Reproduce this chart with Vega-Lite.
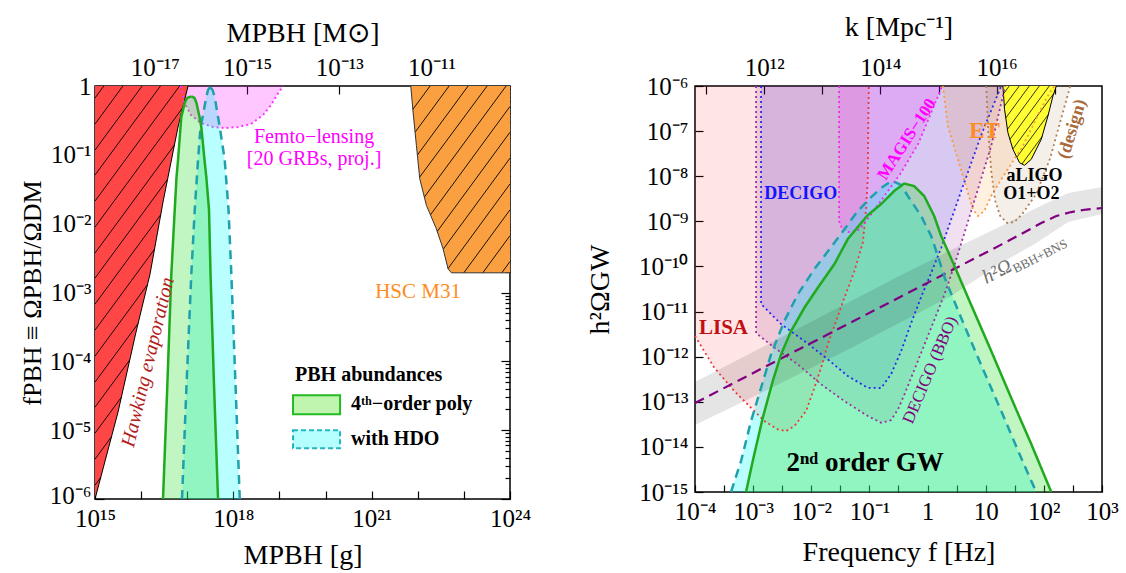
{
"$schema": "https://vega.github.io/schema/vega-lite/v6.json",
"background": "white",
"padding": {"left": 18, "top": 12, "right": 5, "bottom": 5},
"spacing": 53,
"config": {
 "view": {"stroke": "black", "strokeWidth": 1.5},
 "axis": {"grid": false, "domain": false, "labelFont": "Liberation Serif", "labelFontSize": 25, "labelColor": "black", "titleFont": "Liberation Serif", "titleFontSize": 28, "titleFontWeight": "normal", "titleColor": "black", "tickColor": "black", "tickWidth": 1.2, "labelOverlap": false, "labelFlush": false, "labelBound": false},
 "text": {"font": "Liberation Serif"}
},
"datasets": {
 "hawk": [{"M":1e15,"f":1e-6},{"M":3.155e15,"f":1.828e-5},{"M":7.751e15,"f":2.657e-4},{"M":1.56e16,"f":1.851e-3},{"M":2.985e16,"f":0.02061},{"M":6.316e16,"f":0.2536},{"M":1.041e17,"f":1}],
 "hawkHatch": [
  {"M1":1e15,"f1":0.6693,"M2":1.5525e15,"f2":1},
  {"M1":1e15,"f1":0.2803,"M2":4.027e15,"f2":1},
  {"M1":1e15,"f1":0.1174,"M2":1.052e16,"f2":1},
  {"M1":1e15,"f1":0.05086,"M2":2.624e16,"f2":1},
  {"M1":1e15,"f1":0.02131,"M2":6.839e16,"f2":1},
  {"M1":1e15,"f1":0.008926,"M2":7.98e16,"f2":0.4836},
  {"M1":1e15,"f1":0.003738,"M2":5.272e16,"f2":0.1388},
  {"M1":1e15,"f1":0.001619,"M2":3.741e16,"f2":0.04389},
  {"M1":1e15,"f1":6.783e-4,"M2":2.661e16,"f2":0.01351},
  {"M1":1e15,"f1":2.841e-4,"M2":1.954e16,"f2":0.00426},
  {"M1":1e15,"f1":1.19e-4,"M2":1.371e16,"f2":0.001294},
  {"M1":1e15,"f1":4.986e-5,"M2":8.61e15,"f2":3.543e-4},
  {"M1":1e15,"f1":2.16e-5,"M2":5.689e15,"f2":1.051e-4},
  {"M1":1e15,"f1":9.045e-6,"M2":3.715e15,"f2":2.997e-5},
  {"M1":1e15,"f1":3.788e-6,"M2":2.28e15,"f2":8.045e-6},
  {"M1":1e15,"f1":1.587e-6,"M2":1.337e15,"f2":2.067e-6}],
 "hsc": [{"M":7.047e21,"f":1},{"M":7.907e21,"f":0.4188},{"M":9.333e21,"f":0.1374},{"M":1.104e22,"f":0.04498},{"M":1.538e22,"f":0.01845},{"M":2.529e22,"f":0.008433},{"M":3.54e22,"f":0.004315},{"M":4.539e22,"f":0.002208},{"M":5.358e22,"f":0.001932},{"M":1e24,"f":0.001932}],
 "hscHatch": [
  {"M1":1.849e22,"f1":1,"M2":7.798e21,"f2":0.4571},
  {"M1":4.775e22,"f1":1,"M2":8.73e21,"f2":0.213},
  {"M1":1.233e23,"f1":1,"M2":9.795e21,"f2":0.0993},
  {"M1":3.184e23,"f1":1,"M2":1.089e22,"f2":0.0471},
  {"M1":8.222e23,"f1":1,"M2":1.39e22,"f2":0.02438},
  {"M1":1e24,"f1":0.5051,"M2":1.884e22,"f2":0.01343},
  {"M1":1e24,"f1":0.213,"M2":2.649e22,"f2":0.007727},
  {"M1":1e24,"f1":0.08954,"M2":3.573e22,"f2":0.004276},
  {"M1":1e24,"f1":0.03776,"M2":4.519e22,"f2":0.002223},
  {"M1":1e24,"f1":0.01589,"M2":9.954e22,"f2":0.001932},
  {"M1":1e24,"f1":0.006699,"M2":2.57e23,"f2":0.001932},
  {"M1":1e24,"f1":0.002825,"M2":6.637e23,"f2":0.001932}],
 "femto": [{"M":7.345e16,"f":1},{"M":8.531e16,"f":0.5853},{"M":1.208e17,"f":0.3788},{"M":1.991e17,"f":0.2899},{"M":3.631e17,"f":0.2536},{"M":6.607e17,"f":0.2452},{"M":1.265e18,"f":0.2536},{"M":2.421e18,"f":0.2803},{"M":4.406e18,"f":0.3788},{"M":6.577e18,"f":0.5294},{"M":8.872e18,"f":0.7398},{"M":1.197e19,"f":1}],
 "poly": [{"f":1e-6,"ML":2.986e16,"MR":4.657e17},{"f":4.464e-5,"ML":3.70e16,"MR":3.814e17},{"f":1.851e-3,"ML":4.52e16,"MR":3.202e17},{"f":0.01576,"ML":5.356e16,"MR":2.971e17},{"f":0.04757,"ML":5.86e16,"MR":2.596e17},{"f":0.08403,"ML":6.316e16,"MR":2.373e17},{"f":0.2536,"ML":7.156e16,"MR":2.022e17},{"f":0.3543,"ML":7.447e16,"MR":1.848e17},{"f":0.566,"ML":8.829e16,"MR":1.591e17},{"f":0.6693,"ML":9.902e16,"MR":1.44e17},{"f":0.7084,"ML":1.227e17,"MR":1.227e17}],
 "hdo": [{"f":1e-6,"ML":7.71e16,"MR":1.377e18},{"f":4.508e-5,"ML":9.656e16,"MR":1.116e18},{"f":1.851e-3,"ML":1.227e17,"MR":9.05e17},{"f":0.01576,"ML":1.455e17,"MR":7.87e17},{"f":0.08403,"ML":1.715e17,"MR":6.508e17},{"f":0.2536,"ML":1.943e17,"MR":5.07e17},{"f":0.3205,"ML":2.094e17,"MR":4.775e17},{"f":0.6921,"ML":2.596e17,"MR":3.949e17},{"f":0.8748,"ML":2.826e17,"MR":3.538e17},{"f":0.9671,"ML":3.123e17,"MR":3.123e17}],
 "lisa": [{"F":1e-4,"O":2.864e-12},{"F":2.149e-4,"O":5.675e-13},{"F":4.747e-4,"O":1.727e-13},{"F":9.203e-4,"O":7.362e-14},{"F":1.559e-3,"O":3.733e-14},{"F":2.651e-3,"O":2.443e-14},{"F":3.684e-3,"O":2.239e-14},{"F":5.118e-3,"O":2.891e-14},{"F":8.138e-3,"O":6.223e-14},{"F":0.01131,"O":2.042e-13},{"F":0.01475,"O":5.675e-13},{"F":0.01923,"O":1.875e-12},{"F":0.02673,"O":6.152e-12},{"F":0.03713,"O":2.023e-11},{"F":0.05517,"O":7.907e-11},{"F":0.07697,"O":3.354e-10},{"F":0.08775,"O":1.875e-9},{"F":0.09387,"O":1.01e-8},{"F":0.09612,"O":3.09e-7},{"F":0.09765,"O":1e-6}],
 "decigo": [{"F":1.367e-3,"O":1e-6},{"F":1.368e-3,"O":1.467e-11},{"F":3.021e-3,"O":5.282e-12},{"F":7.605e-3,"O":2.218e-12},{"F":0.01923,"O":8.71e-13},{"F":0.04248,"O":3.715e-13},{"F":0.09387,"O":2.042e-13},{"F":0.159,"O":2.014e-13},{"F":0.2363,"O":4.111e-13},{"F":0.3512,"O":1.33e-12},{"F":0.522,"O":5.559e-12},{"F":0.7759,"O":2.097e-11},{"F":1.153,"O":7.141e-11},{"F":1.714,"O":2.559e-10},{"F":3.787,"O":4.699e-9},{"F":8.367,"O":8.195e-8},{"F":18.48,"O":1e-6}],
 "bbo": [{"F":1.121e-3,"O":1e-6},{"F":1.122e-3,"O":3.337e-12},{"F":2.317e-3,"O":1.575e-12},{"F":5.856e-3,"O":6.75e-13},{"F":0.01475,"O":2.431e-13},{"F":0.03713,"O":1.036e-13},{"F":0.09387,"O":4.819e-14},{"F":0.159,"O":3.423e-14},{"F":0.2363,"O":3.928e-14},{"F":0.3119,"O":6.889e-14},{"F":0.4003,"O":1.459e-13},{"F":0.6809,"O":7.987e-13},{"F":1.153,"O":4.373e-12},{"F":1.954,"O":2.406e-11},{"F":2.87,"O":1.021e-10},{"F":5.629,"O":1.692e-9},{"F":12.43,"O":4.673e-8},{"F":21.66,"O":1e-6}],
 "magis": [{"F":0.03008,"O":1e-6},{"F":0.03009,"O":1.016e-9},{"F":0.03389,"O":6.75e-10},{"F":0.04299,"O":5.79e-10},{"F":0.06142,"O":6.093e-10},{"F":0.0779,"O":8.279e-10},{"F":0.1113,"O":1.528e-9},{"F":0.3376,"O":1.119e-8},{"F":0.689,"O":5.176e-8},{"F":1.784,"O":1e-6}],
 "et": [{"F":1.834,"O":1e-6},{"F":2.236,"O":1.297e-7},{"F":3.323,"O":2.37e-8},{"F":4.939,"O":4.306e-9},{"F":6.022,"O":1.845e-9},{"F":7.34,"O":1.311e-9},{"F":9.423,"O":1.692e-9},{"F":12.43,"O":3.639e-9},{"F":17.77,"O":7.826e-9},{"F":27.47,"O":1.865e-8},{"F":42.0,"O":4.284e-8},{"F":60.7,"O":1.113e-7},{"F":85.35,"O":2.791e-7},{"F":114.4,"O":5.702e-7},{"F":151.0,"O":1e-6}],
 "design": [{"F":10.2,"O":1e-6},{"F":11.04,"O":1.005e-7},{"F":12.43,"O":1.304e-8},{"F":14.57,"O":2.819e-9},{"F":17.77,"O":1.311e-9},{"F":23.45,"O":9.169e-10},{"F":30.94,"O":9.65e-10},{"F":42.49,"O":1.452e-9},{"F":74.01,"O":4.03e-9},{"F":128.9,"O":2.532e-8},{"F":199.3,"O":1.952e-7},{"F":284.7,"O":1e-6}],
 "ligo": [{"F":19.77,"O":1e-6},{"F":21.07,"O":3.044e-7},{"F":24.11,"O":9.215e-8},{"F":29.39,"O":3.949e-8},{"F":38.17,"O":1.992e-8},{"F":46.54,"O":1.745e-8},{"F":60.7,"O":2.37e-8},{"F":90.2,"O":6.58e-8},{"F":117.6,"O":2.162e-7},{"F":143.4,"O":6.002e-7},{"F":163.5,"O":1e-6}],
 "ligoHatch": [{"F1":25.38,"O1":1e-6,"F2":20.17,"O2":6.681e-7},{"F1":37.72,"O1":1e-6,"F2":20.9,"O2":3.565e-7},{"F1":56.07,"O1":1e-6,"F2":22.18,"O2":1.962e-7},{"F1":83.33,"O1":1e-6,"F2":23.63,"O2":1.096e-7},{"F1":123.8,"O1":1e-6,"F2":26.09,"O2":6.546e-8},{"F1":148.6,"O1":6.854e-7,"F2":29.39,"O2":4.03e-8},{"F1":120.0,"O1":2.357e-7,"F2":34.3,"O2":2.638e-8},{"F1":93.47,"O1":7.59e-8,"F2":42.0,"O2":1.865e-8}],
 "gwGreen": [{"F":7.548e-4,"O":1e-15},{"F":9.843e-4,"O":4.843e-15},{"F":1.463e-3,"O":4.418e-14},{"F":2.174e-3,"O":2.877e-13},{"F":3.021e-3,"O":1.125e-12},{"F":4.489e-3,"O":3.695e-12},{"F":7.605e-3,"O":1.214e-11},{"F":0.01294,"O":3.371e-11},{"F":0.02498,"O":1.13e-10},{"F":0.04248,"O":4.05e-10},{"F":0.09387,"O":1.38e-9},{"F":0.159,"O":2.419e-9},{"F":0.2661,"O":4.697e-9},{"F":0.3956,"O":6.889e-9},{"F":0.588,"O":6.062e-9},{"F":0.8739,"O":3.639e-9},{"F":1.299,"O":1.311e-9},{"F":1.714,"O":4.722e-10},{"F":2.758,"O":1.19e-10},{"F":5.629,"O":1.393e-11},{"F":12.43,"O":1.33e-12},{"F":27.47,"O":1.208e-13},{"F":60.7,"O":1.154e-14},{"F":134.1,"O":1e-15}],
 "gwCyan": [{"F":4.165e-4,"O":1e-15},{"F":6.19e-4,"O":4.843e-15},{"F":9.203e-4,"O":3.734e-14},{"F":1.368e-3,"O":2.042e-13},{"F":2.033e-3,"O":1.125e-12},{"F":3.443e-3,"O":6.152e-12},{"F":5.856e-3,"O":2.406e-11},{"F":0.01131,"O":8.757e-11},{"F":0.02498,"O":3.354e-10},{"F":0.06314,"O":1.692e-9},{"F":0.107,"O":3.458e-9},{"F":0.159,"O":5.474e-9},{"F":0.2183,"O":7.249e-9},{"F":0.2769,"O":7.436e-9},{"F":0.3512,"O":6.381e-9},{"F":0.4581,"O":3.639e-9},{"F":0.7759,"O":1.311e-9},{"F":1.153,"O":4.722e-10},{"F":1.522,"O":1.616e-10},{"F":2.009,"O":5.255e-11},{"F":3.787,"O":7.176e-12},{"F":8.367,"O":6.512e-13},{"F":18.48,"O":6.223e-14},{"F":40.83,"O":5.645e-15},{"F":74.01,"O":1e-15}],
 "bbhLine": [{"F":1e-4,"O":9.358e-14},{"F":9.203e-4,"O":4.114e-13},{"F":6.674e-3,"O":1.543e-12},{"F":0.04842,"O":5.761e-12},{"F":0.3512,"O":2.162e-11},{"F":2.548,"O":8.111e-11},{"F":18.48,"O":3.044e-10},{"F":40.83,"O":5.229e-10},{"F":90.2,"O":9.169e-10},{"F":163.5,"O":1.311e-9},{"F":296.2,"O":1.607e-9},{"F":536.9,"O":1.826e-9},{"F":1000,"O":1.972e-9}],
 "bbhBand": [{"F":1e-4,"lo":3.044e-14,"hi":2.734e-13},{"F":9.203e-4,"lo":1.208e-13,"hi":1.202e-12},{"F":6.674e-3,"lo":4.329e-13,"hi":4.532e-12},{"F":0.04842,"lo":1.551e-12,"hi":1.709e-11},{"F":0.3512,"lo":5.85e-12,"hi":6.446e-11},{"F":2.548,"lo":2.207e-11,"hi":2.31e-10},{"F":18.48,"lo":1.19e-10,"hi":7.867e-10},{"F":74.01,"lo":3.302e-10,"hi":1.972e-9},{"F":263.0,"lo":9.65e-10,"hi":4.241e-9},{"F":1000,"lo":1.452e-9,"hi":5.761e-9}]
},
"hconcat": [
{
 "width": 415, "height": 413,
 "resolve": {"axis": {"x": "independent", "y": "independent"}},
 "layer": [
  {"data": {"name": "femto"}, "mark": {"type": "area", "color": "#ff00ff", "fillOpacity": 0.22},
   "encoding": {"x": {"field": "M", "type": "quantitative", "scale": {"type": "log", "domain": [1e15, 1e24], "nice": false}, "axis": null},
                "y": {"field": "f", "type": "quantitative", "scale": {"type": "log", "domain": [1e-6, 1], "nice": false}, "axis": null},
                "y2": {"datum": 1}}},
  {"data": {"name": "hawk"}, "mark": {"type": "area", "color": "#ff4646"},
   "encoding": {"x": {"field": "M", "type": "quantitative", "axis": null}, "y": {"field": "f", "type": "quantitative", "axis": null}, "y2": {"datum": 1}}},
  {"data": {"name": "hsc"}, "mark": {"type": "area", "color": "#faa040"},
   "encoding": {"x": {"field": "M", "type": "quantitative", "axis": null}, "y": {"field": "f", "type": "quantitative", "axis": null}, "y2": {"datum": 1}}},
  {"data": {"name": "hawkHatch"}, "mark": {"type": "rule", "color": "black", "strokeWidth": 0.9},
   "encoding": {"x": {"field": "M1", "type": "quantitative", "axis": null}, "y": {"field": "f1", "type": "quantitative", "axis": null}, "x2": {"field": "M2"}, "y2": {"field": "f2"}}},
  {"data": {"name": "hscHatch"}, "mark": {"type": "rule", "color": "black", "strokeWidth": 0.9},
   "encoding": {"x": {"field": "M1", "type": "quantitative", "axis": null}, "y": {"field": "f1", "type": "quantitative", "axis": null}, "x2": {"field": "M2"}, "y2": {"field": "f2"}}},
  {"data": {"name": "hawk"}, "mark": {"type": "line", "color": "black", "strokeWidth": 1},
   "encoding": {"x": {"field": "M", "type": "quantitative", "axis": null}, "y": {"field": "f", "type": "quantitative", "axis": null}}},
  {"data": {"name": "hsc"}, "mark": {"type": "line", "color": "#333333", "strokeWidth": 1},
   "encoding": {"x": {"field": "M", "type": "quantitative", "axis": null}, "y": {"field": "f", "type": "quantitative", "axis": null}}},
  {"data": {"name": "femto"}, "mark": {"type": "line", "color": "#ff33ff", "strokeWidth": 2, "strokeDash": [2, 3]},
   "encoding": {"x": {"field": "M", "type": "quantitative", "axis": null}, "y": {"field": "f", "type": "quantitative", "axis": null}}},
  {"data": {"name": "hdo"}, "mark": {"type": "area", "orient": "horizontal", "color": "#00ffff", "fillOpacity": 0.27},
   "encoding": {"y": {"field": "f", "type": "quantitative", "axis": null}, "x": {"field": "ML", "type": "quantitative", "axis": null}, "x2": {"field": "MR"}}},
  {"data": {"name": "poly"}, "mark": {"type": "area", "orient": "horizontal", "color": "#33dd33", "fillOpacity": 0.3},
   "encoding": {"y": {"field": "f", "type": "quantitative", "axis": null}, "x": {"field": "ML", "type": "quantitative", "axis": null}, "x2": {"field": "MR"}}},
  {"data": {"name": "hdo"}, "mark": {"type": "line", "color": "#1fa0ad", "strokeWidth": 2.5, "strokeDash": [9, 6]},
   "encoding": {"x": {"field": "ML", "type": "quantitative", "axis": null}, "y": {"field": "f", "type": "quantitative", "axis": null}, "order": {"field": "f", "type": "quantitative"}}},
  {"data": {"name": "hdo"}, "mark": {"type": "line", "color": "#1fa0ad", "strokeWidth": 2.5, "strokeDash": [9, 6]},
   "encoding": {"x": {"field": "MR", "type": "quantitative", "axis": null}, "y": {"field": "f", "type": "quantitative", "axis": null}, "order": {"field": "f", "type": "quantitative"}}},
  {"data": {"name": "poly"}, "mark": {"type": "line", "color": "#1faa1f", "strokeWidth": 2.5},
   "encoding": {"x": {"field": "ML", "type": "quantitative", "axis": null}, "y": {"field": "f", "type": "quantitative", "axis": null}, "order": {"field": "f", "type": "quantitative"}}},
  {"data": {"name": "poly"}, "mark": {"type": "line", "color": "#1faa1f", "strokeWidth": 2.5},
   "encoding": {"x": {"field": "MR", "type": "quantitative", "axis": null}, "y": {"field": "f", "type": "quantitative", "axis": null}, "order": {"field": "f", "type": "quantitative"}}},
  {"data": {"values": [{"M1": 1.972e19, "M2": 2.063e20, "f1": 3.228e-5, "f2": 1.71e-5}]}, "mark": {"type": "rect", "fill": "#c0f5b0", "stroke": "#22bb22", "strokeWidth": 2},
   "encoding": {"x": {"field": "M1", "type": "quantitative", "axis": null}, "x2": {"field": "M2"}, "y": {"field": "f1", "type": "quantitative", "axis": null}, "y2": {"field": "f2"}}},
  {"data": {"values": [{"M1": 1.972e19, "M2": 2.063e20, "f1": 1e-5, "f2": 5.473e-6}]}, "mark": {"type": "rect", "fill": "#b5ffff", "stroke": "#20b5c0", "strokeWidth": 2, "strokeDash": [5, 3]},
   "encoding": {"x": {"field": "M1", "type": "quantitative", "axis": null}, "x2": {"field": "M2"}, "y": {"field": "f1", "type": "quantitative", "axis": null}, "y2": {"field": "f2"}}},
  {"data": {"values": [{"M": 2.179e19, "f": 6.3e-5, "t": "PBH abundances"}, {"M": 3.573e20, "f": 2.388e-5, "t": "4ᵗʰ−order poly"}, {"M": 3.573e20, "f": 7.4e-6, "t": "with HDO"}]},
   "mark": {"type": "text", "fontSize": 20, "fontWeight": "bold", "color": "black", "align": "left", "baseline": "middle"},
   "encoding": {"x": {"field": "M", "type": "quantitative", "axis": null}, "y": {"field": "f", "type": "quantitative", "axis": null}, "text": {"field": "t"}}},
  {"data": {"values": [{"M": 5.636e19, "f": 0.1815, "t": "Femto−lensing"}, {"M": 5.636e19, "f": 0.0869, "t": "[20 GRBs, proj.]"}]},
   "mark": {"type": "text", "fontSize": 20, "color": "#ff00ff", "align": "center", "baseline": "middle"},
   "encoding": {"x": {"field": "M", "type": "quantitative", "axis": null}, "y": {"field": "f", "type": "quantitative", "axis": null}, "text": {"field": "t"}}},
  {"data": {"values": [{"M": 1.016e22, "f": 1.014e-3, "t": "HSC M31"}]},
   "mark": {"type": "text", "fontSize": 21, "color": "#ff8c1e", "align": "center", "baseline": "middle"},
   "encoding": {"x": {"field": "M", "type": "quantitative", "axis": null}, "y": {"field": "f", "type": "quantitative", "axis": null}, "text": {"field": "t"}}},
  {"data": {"values": [{"M": 1.413e16, "f": 9.736e-5, "t": "Hawking evaporation"}]},
   "mark": {"type": "text", "fontSize": 20, "fontStyle": "italic", "color": "#b21e1e", "align": "center", "baseline": "middle", "angle": -76.6},
   "encoding": {"x": {"field": "M", "type": "quantitative", "axis": null}, "y": {"field": "f", "type": "quantitative", "axis": null}, "text": {"field": "t"}}},
  {"data": {"values": [{"M": 1e20, "f": 1e-3}]}, "mark": {"type": "point", "opacity": 0},
   "encoding": {
    "x": {"field": "M", "type": "quantitative", "axis": {"orient": "bottom", "values": [1e15,1e16,1e17,1e18,1e19,1e20,1e21,1e22,1e23,1e24], "labelExpr": "abs(log(datum.value)/LN10 - 15) < 0.01 ? '10¹⁵' : abs(log(datum.value)/LN10 - 18) < 0.01 ? '10¹⁸' : abs(log(datum.value)/LN10 - 21) < 0.01 ? '10²¹' : abs(log(datum.value)/LN10 - 24) < 0.01 ? '10²⁴' : ''", "tickSize": -8, "labelPadding": 15, "title": "MPBH  [g]", "titlePadding": 10}},
    "y": {"field": "f", "type": "quantitative", "axis": {"orient": "left", "values": [1e-6,2e-6,3e-6,4e-6,5e-6,6e-6,7e-6,8e-6,9e-6,1e-5,2e-5,3e-5,4e-5,5e-5,6e-5,7e-5,8e-5,9e-5,1e-4,2e-4,3e-4,4e-4,5e-4,6e-4,7e-4,8e-4,9e-4,0.001,0.002,0.003,0.004,0.005,0.006,0.007,0.008,0.009,0.01,0.02,0.03,0.04,0.05,0.06,0.07,0.08,0.09,0.1,0.2,0.3,0.4,0.5,0.6,0.7,0.8,0.9,1], "labelExpr": "abs(log(datum.value)/LN10 - round(log(datum.value)/LN10)) < 0.001 ? ['1','10⁻¹','10⁻²','10⁻³','10⁻⁴','10⁻⁵','10⁻⁶'][-round(log(datum.value)/LN10)] : ''", "labelOffset": {"condition": {"test": "datum.value < 1.5e-6", "value": -4}, "value": 0}, "tickSize": {"condition": {"test": "abs(log(datum.value)/LN10 - round(log(datum.value)/LN10)) < 0.001", "value": -9}, "value": -5}, "labelPadding": 13, "title": "fPBH ≡ ΩPBH/ΩDM", "titleFontSize": 26, "titlePadding": 4}}}},
  {"data": {"values": [{"M": 1e20, "f": 1e-3}]}, "mark": {"type": "point", "opacity": 0},
   "encoding": {
    "x": {"field": "M", "type": "quantitative", "axis": {"orient": "top", "values": [1.989e16, 1.989e18, 1.989e20, 1.989e22], "labelExpr": "datum.value < 1e17 ? '10⁻¹⁷' : datum.value < 1e19 ? '10⁻¹⁵' : datum.value < 1e21 ? '10⁻¹³' : '10⁻¹¹'", "tickSize": -8, "labelPadding": 14, "title": "MPBH  [M⊙]", "titlePadding": 8}},
    "y": {"field": "f", "type": "quantitative", "axis": {"orient": "right", "values": [1e-6,2e-6,3e-6,4e-6,5e-6,6e-6,7e-6,8e-6,9e-6,1e-5,2e-5,3e-5,4e-5,5e-5,6e-5,7e-5,8e-5,9e-5,1e-4,2e-4,3e-4,4e-4,5e-4,6e-4,7e-4,8e-4,9e-4,0.001,0.002,0.003,0.004,0.005,0.006,0.007,0.008,0.009,0.01,0.02,0.03,0.04,0.05,0.06,0.07,0.08,0.09,0.1,0.2,0.3,0.4,0.5,0.6,0.7,0.8,0.9,1], "labels": false, "title": null, "tickSize": {"condition": {"test": "abs(log(datum.value)/LN10 - round(log(datum.value)/LN10)) < 0.001", "value": -9}, "value": -5}}}}}
 ]
},
{
 "width": 407, "height": 406,
 "resolve": {"axis": {"x": "independent", "y": "independent"}},
 "layer": [
  {"data": {"name": "lisa"}, "mark": {"type": "area", "color": "#ff0000", "fillOpacity": 0.1},
   "encoding": {"x": {"field": "F", "type": "quantitative", "scale": {"type": "log", "domain": [1e-4, 1e3], "nice": false}, "axis": null},
                "y": {"field": "O", "type": "quantitative", "scale": {"type": "log", "domain": [1e-15, 1e-6], "nice": false}, "axis": null},
                "y2": {"datum": 1e-6}}},
  {"data": {"name": "bbo"}, "mark": {"type": "area", "color": "#800080", "fillOpacity": 0.12},
   "encoding": {"x": {"field": "F", "type": "quantitative", "axis": null}, "y": {"field": "O", "type": "quantitative", "axis": null}, "y2": {"datum": 1e-6}}},
  {"data": {"name": "decigo"}, "mark": {"type": "area", "color": "#0000ff", "fillOpacity": 0.1},
   "encoding": {"x": {"field": "F", "type": "quantitative", "axis": null}, "y": {"field": "O", "type": "quantitative", "axis": null}, "y2": {"datum": 1e-6}}},
  {"data": {"name": "magis"}, "mark": {"type": "area", "color": "#ff00ff", "fillOpacity": 0.15},
   "encoding": {"x": {"field": "F", "type": "quantitative", "axis": null}, "y": {"field": "O", "type": "quantitative", "axis": null}, "y2": {"datum": 1e-6}}},
  {"data": {"name": "et"}, "mark": {"type": "area", "color": "#ff8000", "fillOpacity": 0.12},
   "encoding": {"x": {"field": "F", "type": "quantitative", "axis": null}, "y": {"field": "O", "type": "quantitative", "axis": null}, "y2": {"datum": 1e-6}}},
  {"data": {"name": "design"}, "mark": {"type": "area", "color": "#a06030", "fillOpacity": 0.1},
   "encoding": {"x": {"field": "F", "type": "quantitative", "axis": null}, "y": {"field": "O", "type": "quantitative", "axis": null}, "y2": {"datum": 1e-6}}},
  {"data": {"name": "gwCyan"}, "mark": {"type": "area", "color": "#00ffff", "fillOpacity": 0.27},
   "encoding": {"x": {"field": "F", "type": "quantitative", "axis": null}, "y": {"field": "O", "type": "quantitative", "axis": null}, "y2": {"datum": 1e-15}}},
  {"data": {"name": "gwGreen"}, "mark": {"type": "area", "color": "#33dd33", "fillOpacity": 0.3},
   "encoding": {"x": {"field": "F", "type": "quantitative", "axis": null}, "y": {"field": "O", "type": "quantitative", "axis": null}, "y2": {"datum": 1e-15}}},
  {"data": {"name": "bbhBand"}, "mark": {"type": "area", "color": "#000000", "fillOpacity": 0.1},
   "encoding": {"x": {"field": "F", "type": "quantitative", "axis": null}, "y": {"field": "lo", "type": "quantitative", "axis": null}, "y2": {"field": "hi"}}},
  {"data": {"name": "ligo"}, "mark": {"type": "area", "color": "#ffff33"},
   "encoding": {"x": {"field": "F", "type": "quantitative", "axis": null}, "y": {"field": "O", "type": "quantitative", "axis": null}, "y2": {"datum": 1e-6}}},
  {"data": {"name": "ligoHatch"}, "mark": {"type": "rule", "color": "black", "strokeWidth": 0.8},
   "encoding": {"x": {"field": "F1", "type": "quantitative", "axis": null}, "y": {"field": "O1", "type": "quantitative", "axis": null}, "x2": {"field": "F2"}, "y2": {"field": "O2"}}},
  {"data": {"name": "ligo"}, "mark": {"type": "line", "color": "black", "strokeWidth": 1},
   "encoding": {"x": {"field": "F", "type": "quantitative", "axis": null}, "y": {"field": "O", "type": "quantitative", "axis": null}}},
  {"data": {"name": "lisa"}, "mark": {"type": "line", "color": "#e83c3c", "strokeWidth": 1.8, "strokeDash": [2, 3]},
   "encoding": {"x": {"field": "F", "type": "quantitative", "axis": null}, "y": {"field": "O", "type": "quantitative", "axis": null}}},
  {"data": {"name": "bbo"}, "mark": {"type": "line", "color": "#9b30a0", "strokeWidth": 1.8, "strokeDash": [2, 3]},
   "encoding": {"x": {"field": "F", "type": "quantitative", "axis": null}, "y": {"field": "O", "type": "quantitative", "axis": null}}},
  {"data": {"name": "decigo"}, "mark": {"type": "line", "color": "#2828f0", "strokeWidth": 1.8, "strokeDash": [2, 3]},
   "encoding": {"x": {"field": "F", "type": "quantitative", "axis": null}, "y": {"field": "O", "type": "quantitative", "axis": null}}},
  {"data": {"name": "magis"}, "mark": {"type": "line", "color": "#f028f0", "strokeWidth": 1.8, "strokeDash": [2, 3]},
   "encoding": {"x": {"field": "F", "type": "quantitative", "axis": null}, "y": {"field": "O", "type": "quantitative", "axis": null}}},
  {"data": {"name": "et"}, "mark": {"type": "line", "color": "#fa9a40", "strokeWidth": 1.8, "strokeDash": [2, 3]},
   "encoding": {"x": {"field": "F", "type": "quantitative", "axis": null}, "y": {"field": "O", "type": "quantitative", "axis": null}}},
  {"data": {"name": "design"}, "mark": {"type": "line", "color": "#b08058", "strokeWidth": 1.8, "strokeDash": [2, 3]},
   "encoding": {"x": {"field": "F", "type": "quantitative", "axis": null}, "y": {"field": "O", "type": "quantitative", "axis": null}}},
  {"data": {"name": "bbhLine"}, "mark": {"type": "line", "color": "#800080", "strokeWidth": 2.2, "strokeDash": [10, 6]},
   "encoding": {"x": {"field": "F", "type": "quantitative", "axis": null}, "y": {"field": "O", "type": "quantitative", "axis": null}}},
  {"data": {"name": "gwCyan"}, "mark": {"type": "line", "color": "#1fa0ad", "strokeWidth": 2.5, "strokeDash": [9, 6]},
   "encoding": {"x": {"field": "F", "type": "quantitative", "axis": null}, "y": {"field": "O", "type": "quantitative", "axis": null}}},
  {"data": {"name": "gwGreen"}, "mark": {"type": "line", "color": "#1faa1f", "strokeWidth": 2.5},
   "encoding": {"x": {"field": "F", "type": "quantitative", "axis": null}, "y": {"field": "O", "type": "quantitative", "axis": null}}},
  {"data": {"values": [{"F": 3.094e-4, "O": 4.373e-12, "t": "LISA"}]},
   "mark": {"type": "text", "fontSize": 21, "fontWeight": "bold", "color": "#c01010", "align": "center", "baseline": "middle"},
   "encoding": {"x": {"field": "F", "type": "quantitative", "axis": null}, "y": {"field": "O", "type": "quantitative", "axis": null}, "text": {"field": "t"}}},
  {"data": {"values": [{"F": 6.596e-3, "O": 3.969e-9, "t": "DECIGO"}]},
   "mark": {"type": "text", "fontSize": 18, "fontWeight": "bold", "color": "#1414ff", "align": "center", "baseline": "middle"},
   "encoding": {"x": {"field": "F", "type": "quantitative", "axis": null}, "y": {"field": "O", "type": "quantitative", "axis": null}, "text": {"field": "t"}}},
  {"data": {"values": [{"F": 0.442, "O": 6.58e-8, "t": "MAGIS−100"}]},
   "mark": {"type": "text", "fontSize": 17, "fontWeight": "bold", "color": "#ff00ff", "align": "center", "baseline": "middle", "angle": -57},
   "encoding": {"x": {"field": "F", "type": "quantitative", "axis": null}, "y": {"field": "O", "type": "quantitative", "axis": null}, "text": {"field": "t"}}},
  {"data": {"values": [{"F": 9.535, "O": 1.005e-7, "t": "ET"}]},
   "mark": {"type": "text", "fontSize": 23, "fontWeight": "bold", "color": "#ff8c1e", "align": "center", "baseline": "middle"},
   "encoding": {"x": {"field": "F", "type": "quantitative", "axis": null}, "y": {"field": "O", "type": "quantitative", "axis": null}, "text": {"field": "t"}}},
  {"data": {"values": [{"F": 69.18, "O": 1.01e-8, "t": "aLIGO"}, {"F": 60.7, "O": 3.969e-9, "t": "O1+O2"}]},
   "mark": {"type": "text", "fontSize": 18, "fontWeight": "bold", "color": "black", "align": "center", "baseline": "middle"},
   "encoding": {"x": {"field": "F", "type": "quantitative", "axis": null}, "y": {"field": "O", "type": "quantitative", "axis": null}, "text": {"field": "t"}}},
  {"data": {"values": [{"F": 310, "O": 1.113e-7, "t": "(design)"}]},
   "mark": {"type": "text", "fontSize": 18, "fontWeight": "bold", "color": "#a86a3c", "align": "center", "baseline": "middle", "angle": -73},
   "encoding": {"x": {"field": "F", "type": "quantitative", "axis": null}, "y": {"field": "O", "type": "quantitative", "axis": null}, "text": {"field": "t"}}},
  {"data": {"values": [{"F": 1.109, "O": 5.046e-13, "t": "DECIGO (BBO)"}]},
   "mark": {"type": "text", "fontSize": 17, "color": "#800080", "align": "center", "baseline": "middle", "angle": -67},
   "encoding": {"x": {"field": "F", "type": "quantitative", "axis": null}, "y": {"field": "O", "type": "quantitative", "axis": null}, "text": {"field": "t"}}},
  {"data": {"values": [{"F": 10.2, "O": 4.072e-11, "t": "h²Ω"}]},
   "mark": {"type": "text", "fontSize": 20, "fontStyle": "italic", "color": "#707070", "align": "left", "baseline": "alphabetic", "angle": -27},
   "encoding": {"x": {"field": "F", "type": "quantitative", "axis": null}, "y": {"field": "O", "type": "quantitative", "axis": null}, "text": {"field": "t"}}},
  {"data": {"values": [{"F": 32.58, "O": 7.031e-11, "t": "BBH+BNS"}]},
   "mark": {"type": "text", "fontSize": 13, "color": "#707070", "align": "left", "baseline": "alphabetic", "angle": -27},
   "encoding": {"x": {"field": "F", "type": "quantitative", "axis": null}, "y": {"field": "O", "type": "quantitative", "axis": null}, "text": {"field": "t"}}},
  {"data": {"values": [{"F": 0.08433, "O": 4.373e-15, "t": "2ⁿᵈ order GW"}]},
   "mark": {"type": "text", "fontSize": 27, "fontWeight": "bold", "color": "black", "align": "center", "baseline": "middle"},
   "encoding": {"x": {"field": "F", "type": "quantitative", "axis": null}, "y": {"field": "O", "type": "quantitative", "axis": null}, "text": {"field": "t"}}},
  {"data": {"values": [{"F": 1, "O": 1e-10}]}, "mark": {"type": "point", "opacity": 0},
   "encoding": {
    "x": {"field": "F", "type": "quantitative", "axis": {"orient": "bottom", "values": [1e-4,3.162e-4,1e-3,3.162e-3,0.01,0.03162,0.1,0.3162,1,3.162,10,31.62,100,316.2,1000], "labelExpr": "abs(log(datum.value)/LN10 - round(log(datum.value)/LN10)) < 0.01 ? ['10⁻⁴','10⁻³','10⁻²','10⁻¹','1','10','10²','10³'][round(log(datum.value)/LN10)+4] : ''", "tickSize": -7, "labelPadding": 14, "title": "Frequency f   [Hz]", "titlePadding": 14}},
    "y": {"field": "O", "type": "quantitative", "axis": {"orient": "left", "values": [1e-15,1e-14,1e-13,1e-12,1e-11,1e-10,1e-9,1e-8,1e-7,1e-6], "labelExpr": "['10⁻⁶','10⁻⁷','10⁻⁸','10⁻⁹','10⁻¹⁰','10⁻¹¹','10⁻¹²','10⁻¹³','10⁻¹⁴','10⁻¹⁵'][-round(log(datum.value)/LN10)-6]", "tickSize": -8, "labelPadding": 15, "title": "h²ΩGW", "titlePadding": 24}}}},
  {"data": {"values": [{"F": 1, "O": 1e-10}]}, "mark": {"type": "point", "opacity": 0},
   "encoding": {
    "x": {"field": "F", "type": "quantitative", "axis": {"orient": "top", "values": [1.546e-4, 1.546e-3, 0.01546, 0.1546, 1.546, 15.46, 154.6], "labelExpr": "datum.value > 1e-3 && datum.value < 2e-3 ? '10¹²' : datum.value > 0.1 && datum.value < 0.2 ? '10¹⁴' : datum.value > 10 && datum.value < 20 ? '10¹⁶' : ''", "tickSize": -8, "labelPadding": 14, "title": "k   [Mpc⁻¹]", "titlePadding": 14}},
    "y": {"field": "O", "type": "quantitative", "axis": null}}}
 ]
}
]
}
